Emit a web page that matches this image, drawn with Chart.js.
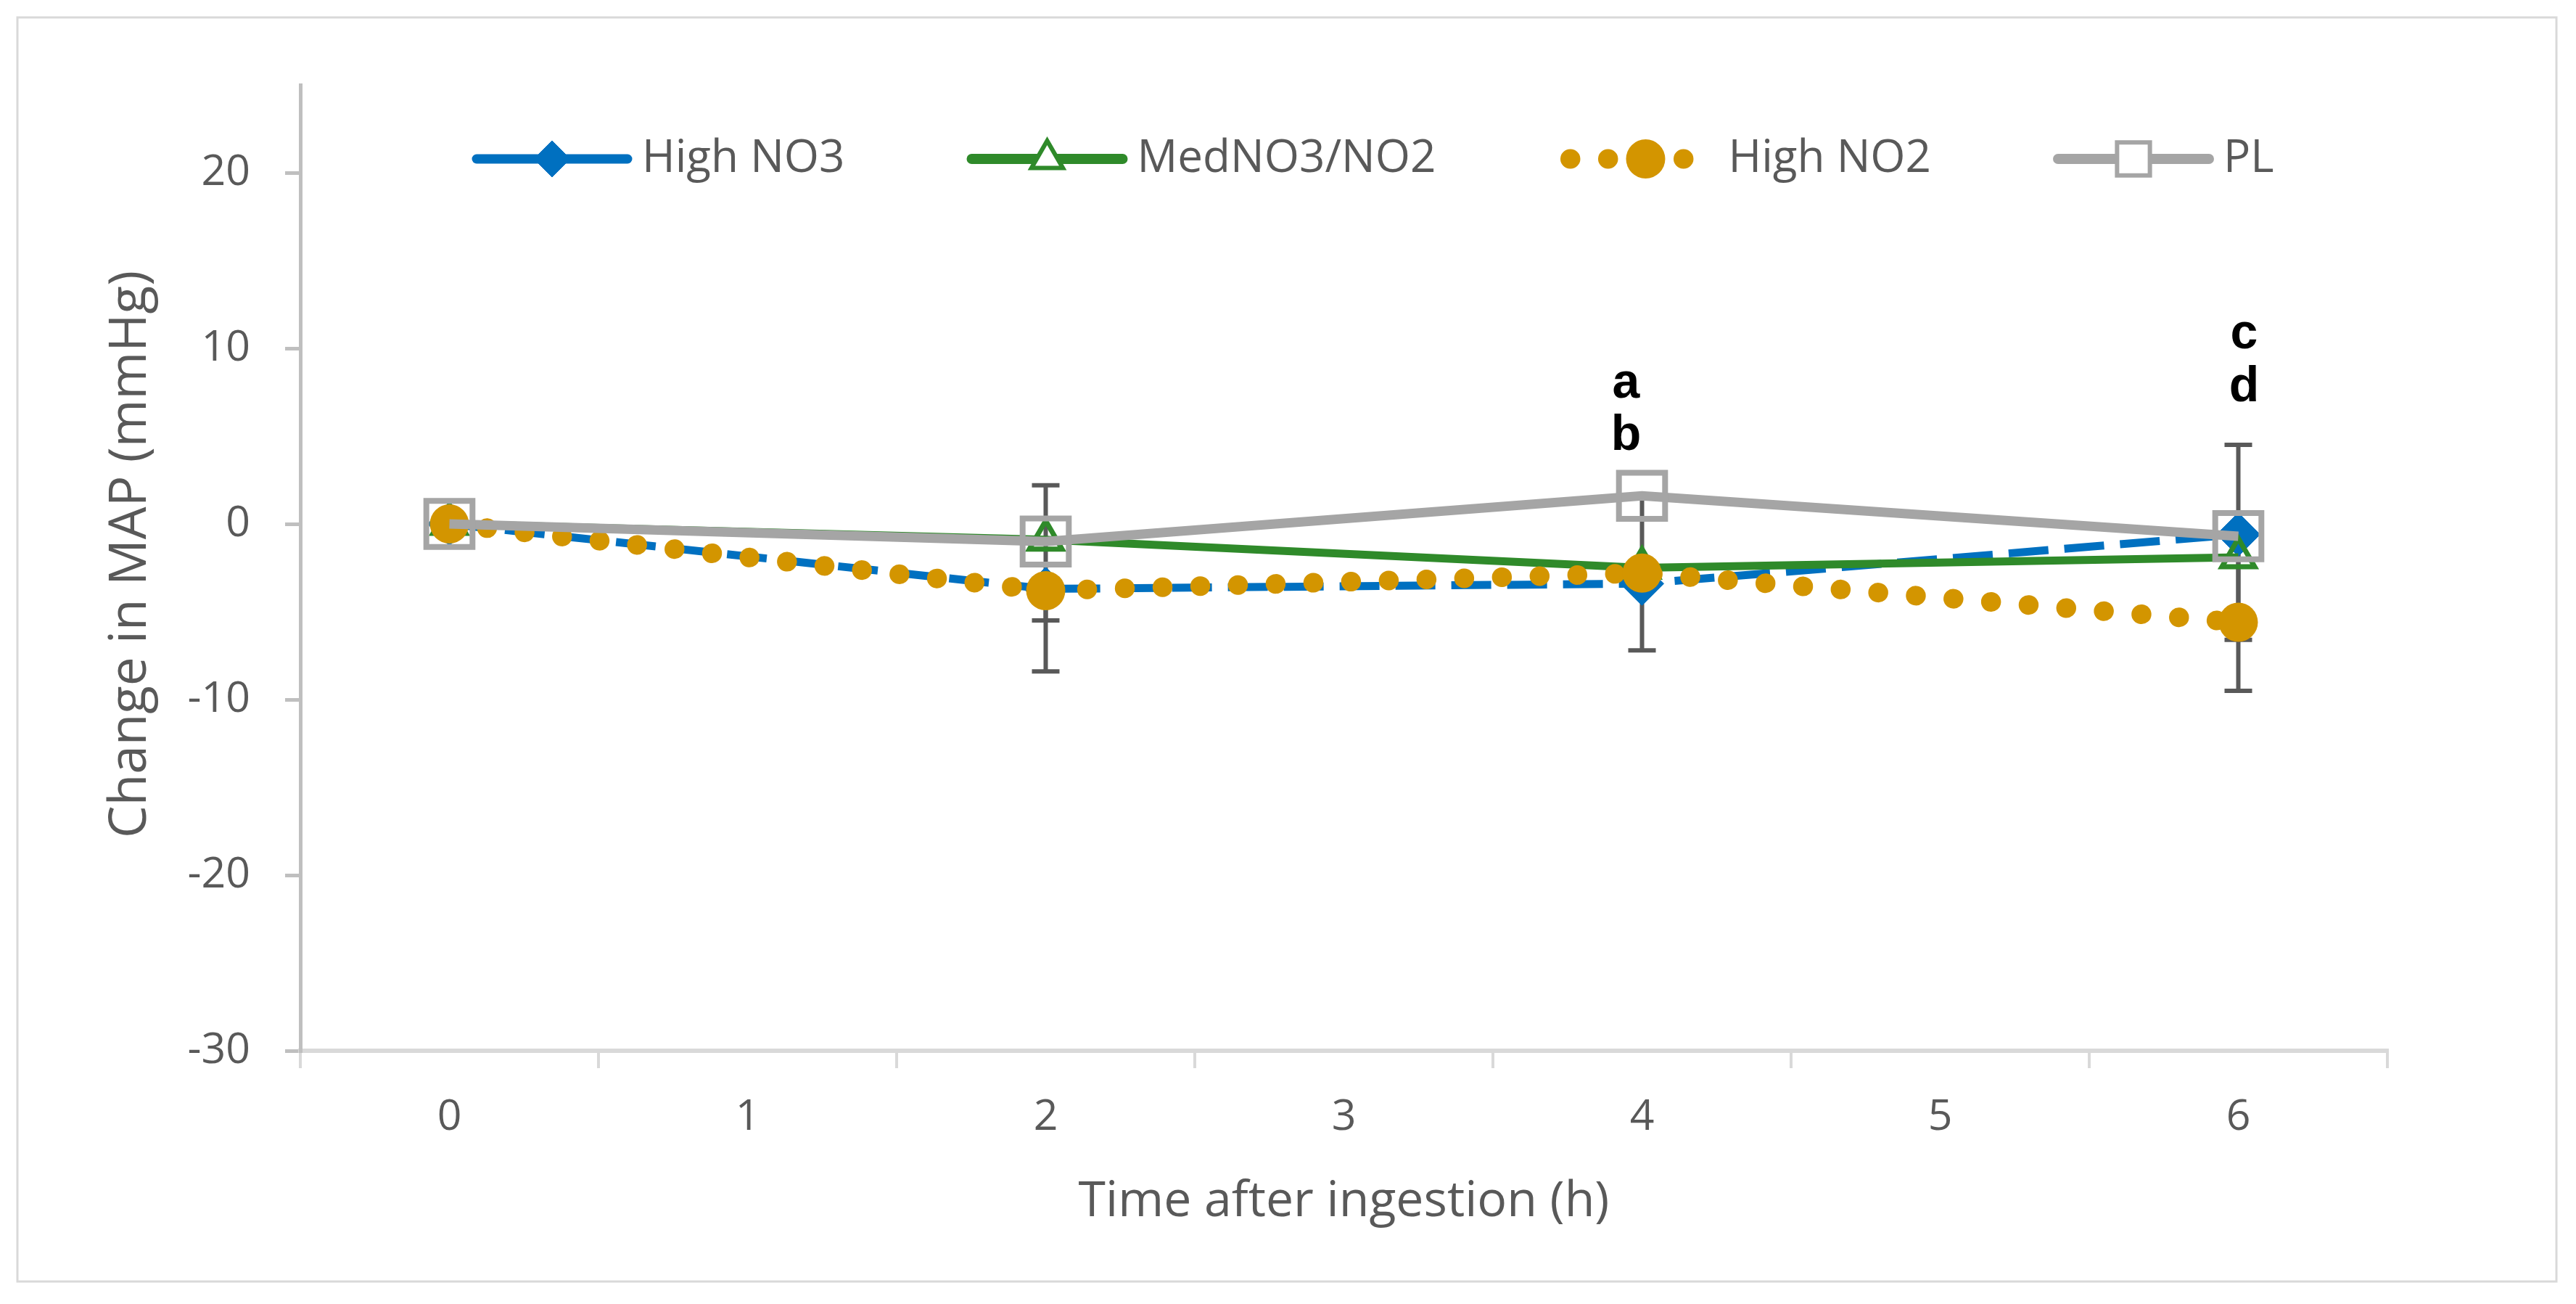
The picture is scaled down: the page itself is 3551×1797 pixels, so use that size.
<!DOCTYPE html>
<html>
<head>
<meta charset="utf-8">
<script src="https://cdn.jsdelivr.net/npm/chart.js@4.4.1/dist/chart.umd.min.js"></script>
<style>
  html, body { margin: 0; padding: 0; background: #fff; }
  canvas { display: block; }
</style>
</head>
<body>
<canvas id="mapChart" width="3551" height="1797"></canvas>
<script>
// x categories and the times that were measured
const timeLabels = ['0', '1', '2', '3', '4', '5', '6'];
const sampleTimes = ['0', '2', '4', '6'];

// change in MAP (mmHg)
const highNO3 = [0, -3.7, -3.4, -0.6];
const medNO3NO2 = [0, -0.9, -2.5, -1.9];
const highNO2 = [0, -3.8, -2.8, -5.6];
const placebo = [0, -1.0, 1.6, -0.7];

// error bars as they are drawn in the figure
const errTimes = ['2', '2', '4', '6', '6'];
const errLow = [-8.4, -5.5, -7.2, -9.5, -6.6];
const errHigh = [2.2, -3.8, 1.6, 4.5, -0.7];

const yTickValues = [-30, -20, -10, 0, 10, 20];

// significance letters
const letterTimes = ['4', '6'];
const letterText = [['a', 'b'], ['c', 'd']];

const TEXT = '#595959';
const FONT = 'Open Sans';

function points(values) {
    return sampleTimes.map(function (t, i) { return { x: t, y: values[i] }; });
}

const framePlugin = {
    id: 'frame',
    beforeDraw: function (chart) {
        const ctx = chart.ctx;
        ctx.save();
        ctx.fillStyle = '#ffffff';
        ctx.fillRect(0, 0, chart.width, chart.height);
        ctx.strokeStyle = '#D9D9D9';
        ctx.lineWidth = 3;
        ctx.strokeRect(24, 24, 3500, 1742);
        // y axis title, drawn by hand to sit where the original has it
        ctx.translate(181, 764);
        ctx.rotate(-Math.PI / 2);
        ctx.fillStyle = TEXT;
        ctx.font = '71px "' + FONT + '"';
        ctx.textAlign = 'center';
        ctx.textBaseline = 'middle';
        ctx.fillText('Change in MAP (mmHg)', 0, 0);
        ctx.restore();
    }
};

const errorBarPlugin = {
    id: 'errorBars',
    beforeDatasetsDraw: function (chart) {
        const ctx = chart.ctx;
        const xs = chart.scales.x, ys = chart.scales.y;
        ctx.save();
        ctx.strokeStyle = '#595959';
        ctx.lineWidth = 6;
        for (let i = 0; i < errTimes.length; i++) {
            const x = xs.getPixelForValue(timeLabels.indexOf(errTimes[i]));
            const y1 = ys.getPixelForValue(errLow[i]);
            const y2 = ys.getPixelForValue(errHigh[i]);
            ctx.beginPath();
            ctx.moveTo(x, y1);
            ctx.lineTo(x, y2);
            ctx.moveTo(x - 19, y1);
            ctx.lineTo(x + 19, y1);
            ctx.moveTo(x - 19, y2);
            ctx.lineTo(x + 19, y2);
            ctx.stroke();
        }
        ctx.restore();
    }
};

const letterPlugin = {
    id: 'letters',
    afterDatasetsDraw: function (chart) {
        const ctx = chart.ctx;
        const xs = chart.scales.x, ys = chart.scales.y;
        const base = [7.2, 10.0];
        const shift = [-22, 8];
        ctx.save();
        ctx.fillStyle = '#000000';
        ctx.font = 'bold 68px "Liberation Sans"';
        ctx.textAlign = 'center';
        ctx.textBaseline = 'alphabetic';
        letterTimes.forEach(function (t, i) {
            const x = xs.getPixelForValue(timeLabels.indexOf(t)) + shift[i];
            letterText[i].forEach(function (s, j) {
                ctx.fillText(s, x, ys.getPixelForValue(base[i] - 3 * j));
            });
        });
        ctx.restore();
    }
};

const legendMarkers = [
    { pointStyle: 'rectRot', radius: 25, borderWidth: 1, line: 13 },
    { pointStyle: 'triangle', radius: 25, borderWidth: 6, line: 14 },
    { pointStyle: 'circle', radius: 27, borderWidth: 0, line: 27 },
    { pointStyle: 'rect', radius: 32, borderWidth: 6, line: 14 }
];

const legendPlugin = {
    id: 'boxLegend',
    afterDraw: function (chart) {
        const ctx = chart.ctx;
        const y = 219;
        let x = 657;
        ctx.save();
        ctx.font = '62px "' + FONT + '"';
        chart.data.datasets.forEach(function (ds, i) {
            const m = legendMarkers[i];
            ctx.beginPath();
            ctx.setLineDash(i === 2 ? ds.borderDash : []);
            ctx.lineDashOffset = 0;
            ctx.lineCap = 'round';
            ctx.lineWidth = m.line;
            ctx.strokeStyle = ds.borderColor;
            if (i === 2) {
                ctx.moveTo(x + 10, y);
                ctx.lineTo(x + 175, y);
            } else {
                ctx.moveTo(x, y);
                ctx.lineTo(x + 208, y);
            }
            ctx.stroke();
            ctx.setLineDash([]);
            ctx.fillStyle = i === 3 || i === 1 ? '#ffffff' : ds.pointBackgroundColor;
            ctx.strokeStyle = ds.pointBorderColor;
            ctx.lineWidth = m.borderWidth;
            ctx.lineCap = 'butt';
            Chart.helpers.drawPoint(ctx, { pointStyle: m.pointStyle, radius: m.radius, borderWidth: m.borderWidth, rotation: 0 },
                i === 2 ? x + 114 : x + 104, y);
            ctx.fillStyle = TEXT;
            ctx.textAlign = 'left';
            ctx.textBaseline = 'middle';
            const tx = x + 228;
            ctx.fillText(ds.label, tx, y);
            x = tx + ctx.measureText(ds.label).width + 175;
        });
        ctx.restore();
    }
};

new Chart(document.getElementById('mapChart').getContext('2d'), {
    type: 'line',
    data: {
        labels: timeLabels,
        datasets: [{
            label: 'High NO3',
            data: points(highNO3),
            borderColor: '#0070C0',
            borderWidth: 11,
            borderDash: [55, 22],
            pointStyle: 'rectRot',
            pointRadius: 30,
            pointBackgroundColor: '#0070C0',
            pointBorderColor: '#0070C0',
            pointBorderWidth: 1,
            order: 4
        }, {
            label: 'MedNO3/NO2',
            data: points(medNO3NO2),
            borderColor: '#2F8A2A',
            borderWidth: 11,
            pointStyle: 'triangle',
            pointRadius: 26,
            pointBackgroundColor: 'rgba(0,0,0,0)',
            pointBorderColor: '#2F8A2A',
            pointBorderWidth: 7,
            order: 3
        }, {
            label: 'High NO2',
            data: points(highNO2),
            borderColor: '#D39500',
            borderWidth: 27,
            borderDash: [0.5, 51.5],
            borderCapStyle: 'round',
            pointStyle: 'circle',
            pointRadius: 27,
            pointBackgroundColor: '#D39500',
            pointBorderColor: '#D39500',
            pointBorderWidth: 0,
            order: 2
        }, {
            label: 'PL',
            data: points(placebo),
            borderColor: '#A5A5A5',
            borderWidth: 13,
            pointStyle: 'rect',
            pointRadius: 45,
            pointBackgroundColor: 'rgba(0,0,0,0)',
            pointBorderColor: '#A5A5A5',
            pointBorderWidth: 8,
            order: 1
        }]
    },
    options: {
        responsive: false,
        devicePixelRatio: 1,
        animation: false,
        layout: { padding: { left: 139, right: 260, top: 117, bottom: 100 } },
        elements: { line: { tension: 0 } },
        plugins: {
            legend: { display: false },
            tooltip: { enabled: false }
        },
        scales: {
            x: {
                type: 'category',
                offset: true,
                grid: { drawOnChartArea: false, tickLength: 24, offset: true, color: '#D9D9D9', lineWidth: 4 },
                border: { color: '#D9D9D9', width: 6 },
                ticks: { color: TEXT, font: { family: FONT, size: 59 }, padding: 33, maxRotation: 0 },
                title: { display: true, text: 'Time after ingestion (h)', color: TEXT, font: { family: FONT, size: 68 }, padding: 0 },
                afterFit: function (s) { s.height = 249; }
            },
            y: {
                min: -30,
                max: 25,
                afterBuildTicks: function (s) {
                    s.ticks = yTickValues.map(function (v) { return { value: v }; });
                },
                grid: { drawOnChartArea: false, tickLength: 21, color: '#BFBFBF', lineWidth: 5 },
                border: { color: '#BFBFBF', width: 5 },
                ticks: { stepSize: 10, color: TEXT, font: { family: FONT, size: 59 }, padding: 48 },
                afterFit: function (s) { s.width = 275; }
            }
        }
    },
    plugins: [framePlugin, errorBarPlugin, letterPlugin, legendPlugin]
});
</script>
</body>
</html>
